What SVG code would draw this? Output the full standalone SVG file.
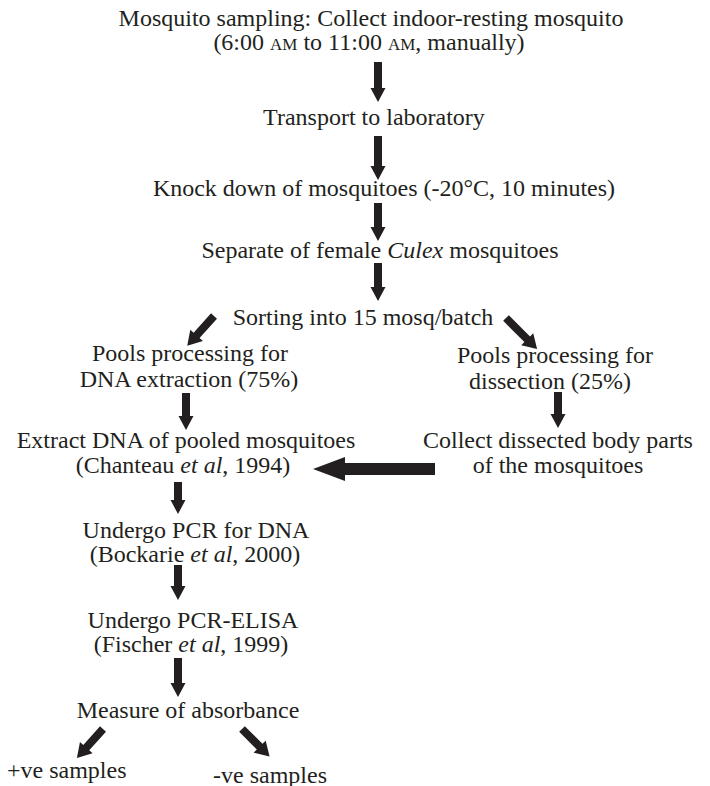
<svg xmlns="http://www.w3.org/2000/svg" width="710" height="786" viewBox="0 0 710 786">
<defs>
<style>
text{font-family:"Liberation Serif","Times New Roman",serif;font-size:24px;fill:#231f20;text-anchor:middle}
.sc{font-size:17px}
.i{font-style:italic}
.arr{fill:#231f20}
</style>
</defs>
<rect width="710" height="786" fill="#fff"/>
<g id="connectors">
<path class="arr" d="M374,62 H382 V88 H385.5 L378,102 L370.5,88 H374 Z"/>
<path class="arr" d="M374,136 H382 V166 H385.5 L378,180 L370.5,166 H374 Z"/>
<path class="arr" d="M374,203 H382 V227 H385.5 L378,241 L370.5,227 H374 Z"/>
<path class="arr" d="M374,263 H382 V287 H385.5 L378,301 L370.5,287 H374 Z"/>
<path class="arr" d="M0,-4 H26 V-8.5 L40,0 L26,8.5 V4 H0 Z" transform="translate(214,316) rotate(132)"/>
<path class="arr" d="M0,-4 H30 V-8.5 L44,0 L30,8.5 V4 H0 Z" transform="translate(506,318) rotate(45)"/>
<path class="arr" d="M182,393 H190 V416 H193.5 L186,430 L178.5,416 H182 Z"/>
<path class="arr" d="M554,392 H562 V414 H565.5 L558,428 L550.5,414 H554 Z"/>
<path class="arr" d="M435,463 V475 H345 V481 L313,469 L345,457 V463 Z"/>
<path class="arr" d="M174,482 H182 V500 H185.5 L178,514 L170.5,500 H174 Z"/>
<path class="arr" d="M174,565 H182 V586 H185.5 L178,600 L170.5,586 H174 Z"/>
<path class="arr" d="M174,658 H182 V683 H185.5 L178,697 L170.5,683 H174 Z"/>
<path class="arr" d="M0,-4 H25 V-8.5 L39,0 L25,8.5 V4 H0 Z" transform="translate(103,729) rotate(132)"/>
<path class="arr" d="M0,-4 H25 V-8.5 L39,0 L25,8.5 V4 H0 Z" transform="translate(242,729) rotate(45)"/>
</g>
<g id="n1"><text x="371" y="26">Mosquito sampling: Collect indoor-resting mosquito</text><text x="369" y="50">(6:00 <tspan class="sc">AM</tspan> to 11:00 <tspan class="sc">AM</tspan>, manually)</text></g>
<g id="n2"><text x="374" y="125">Transport to laboratory</text></g>
<g id="n3"><text x="384" y="196">Knock down of mosquitoes (-20°C, 10 minutes)</text></g>
<g id="n4"><text x="380" y="258">Separate of female <tspan class="i">Culex</tspan> mosquitoes</text></g>
<g id="n5"><text x="363" y="325">Sorting into 15 mosq/batch</text></g>
<g id="n6"><text x="190" y="361">Pools processing for</text><text x="189" y="387">DNA extraction (75%)</text></g>
<g id="n7"><text x="555" y="363">Pools processing for</text><text x="550" y="389">dissection (25%)</text></g>
<g id="n8"><text x="186" y="448">Extract DNA of pooled mosquitoes</text><text x="183" y="473">(Chanteau <tspan class="i">et al</tspan>, 1994)</text></g>
<g id="n9"><text x="558" y="448">Collect dissected body parts</text><text x="558" y="473">of the mosquitoes</text></g>
<g id="n10"><text x="196" y="538">Undergo PCR for DNA</text><text x="195" y="562">(Bockarie <tspan class="i">et al</tspan>, 2000)</text></g>
<g id="n11"><text x="193" y="628">Undergo PCR-ELISA</text><text x="191" y="652">(Fischer <tspan class="i">et al</tspan>, 1999)</text></g>
<g id="n12"><text x="188" y="718">Measure of absorbance</text></g>
<g id="n13"><text x="7" y="778" style="text-anchor:start">+ve samples</text></g>
<g id="n14"><text x="213" y="783" style="text-anchor:start">-ve samples</text></g>
</svg>
